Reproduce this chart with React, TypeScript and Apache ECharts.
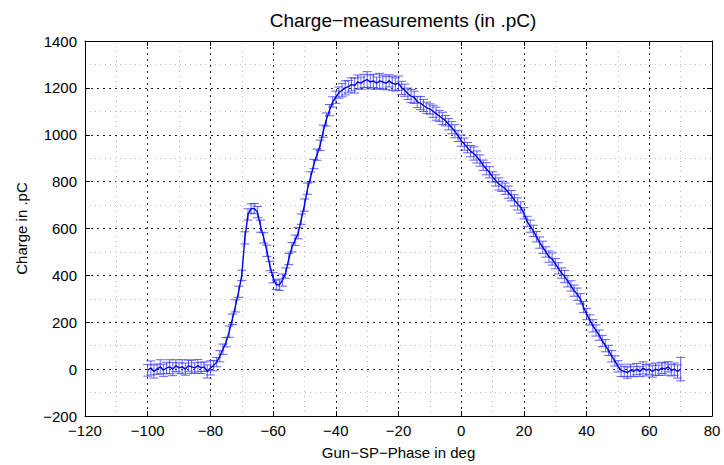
import React, { useEffect, useRef } from "react";
import * as echarts from "echarts";

const titleText = "Charge\u2212measurements (in .pC)";
const xAxisName = "Gun\u2212SP\u2212Phase in deg";
const yAxisName = "Charge in .pC";

const phase: number[] = [
  -100, -99, -98, -97, -96, -95, -94, -93, -92, -91,
  -90, -89, -88, -87, -86, -85, -84, -83, -82, -81,
  -80, -79, -78, -77, -76, -75, -74, -73, -72, -71,
  -70, -69, -68, -67, -66, -65, -64, -63, -62, -61,
  -60, -59, -58, -57, -56, -55, -54, -53, -52, -51,
  -50, -49, -48, -47, -46, -45, -44, -43, -42, -41,
  -40, -39, -38, -37, -36, -35, -34, -33, -32, -31,
  -30, -29, -28, -27, -26, -25, -24, -23, -22, -21,
  -20, -19, -18, -17, -16, -15, -14, -13, -12, -11,
  -10, -9, -8, -7, -6, -5, -4, -3, -2, -1,
  0, 1, 2, 3, 4, 5, 6, 7, 8, 9,
  10, 11, 12, 13, 14, 15, 16, 17, 18, 19,
  20, 21, 22, 23, 24, 25, 26, 27, 28, 29,
  30, 31, 32, 33, 34, 35, 36, 37, 38, 39,
  40, 41, 42, 43, 44, 45, 46, 47, 48, 49,
  50, 51, 52, 53, 54, 55, 56, 57, 58, 59,
  60, 61, 62, 63, 64, 65, 66, 67, 68, 69, 70,
];

const charge: number[] = [
  -5, 5, -10, 0, 10, -5, 5, 10, 0, 15,
  5, 10, 0, 15, 10, 5, 15, 5, 10, -10,
  5, 15, 30, 55, 85, 115, 160, 213, 270, 330,
  400, 560, 660, 685, 685, 670, 610, 560, 505, 440,
  390, 360, 360, 380, 410, 470, 520, 550, 580, 640,
  700, 770, 820, 875, 915, 955, 1015, 1065, 1105, 1140,
  1160, 1180, 1190, 1200, 1205, 1215, 1210, 1225, 1220, 1230,
  1235, 1225, 1230, 1220, 1230, 1225, 1220, 1230, 1220, 1215,
  1220, 1200, 1190, 1175, 1165, 1160, 1140, 1135, 1125, 1115,
  1110, 1100, 1090, 1080, 1070, 1060, 1045, 1030, 1015, 995,
  975, 960, 945, 930, 920, 905, 890, 870, 855, 840,
  820, 805, 790, 780, 770, 755, 740, 720, 705, 690,
  665, 630, 610, 590, 565, 540, 520, 500, 480, 470,
  450, 430, 410, 395, 375, 355, 335, 320, 300, 265,
  235, 210, 185, 165, 145, 120, 100, 80, 55, 35,
  12, -5, -10, -15, -5, -10, 0, -10, 5, -5,
  0, -10, 0, -5, 5, 0, 10, -5, 0, -10, 0,
];

const chargeErr: number[] = [
  25, 30, 28, 22, 30, 26, 24, 30, 28, 25,
  22, 30, 26, 24, 28, 22, 26, 24, 20, 28,
  30, 22, 20, 24, 22, 20, 24, 22, 26, 24,
  22, 26, 24, 20, 22, 24, 26, 22, 24, 20,
  22, 20, 24, 26, 22, 24, 20, 22, 24, 22,
  26, 24, 22, 20, 24, 22, 26, 28, 24, 22,
  26, 24, 28, 30, 26, 28, 32, 30, 26, 28,
  34, 30, 28, 26, 32, 30, 28, 26, 30, 28,
  30, 28, 26, 24, 28, 26, 24, 28, 26, 24,
  22, 26, 28, 24, 26, 22, 24, 26, 28, 24,
  24, 26, 22, 24, 28, 26, 24, 22, 26, 24,
  22, 24, 26, 22, 24, 26, 22, 24, 26, 24,
  24, 22, 26, 24, 22, 24, 26, 22, 24, 26,
  22, 24, 22, 26, 24, 22, 24, 26, 22, 24,
  24, 22, 26, 24, 22, 24, 26, 22, 24, 22,
  24, 26, 22, 24, 26, 22, 24, 22, 26, 24,
  22, 24, 26, 22, 24, 26, 22, 24, 26, 28, 50,
];

const FONT = "'Liberation Sans', Arial, Helvetica, sans-serif";
const minusFmt = (v: number) => String(v).replace("-", "\u2212");

export default function App() {
  const ref = useRef<HTMLDivElement>(null);
  useEffect(() => {
    if (!ref.current) return;
    const chart = echarts.init(ref.current, null, { renderer: "svg" });
    const lineData = phase.map((p, i) => [p, charge[i]]);
    const errData = phase.map((p, i) => [p, charge[i], chargeErr[i]]);
    const errColor = "rgba(60,60,255,0.8)";
    const frameAxis = {
      axisLine: { show: true, onZero: false, lineStyle: { color: "#000", width: 1 } },
      axisTick: { show: true, inside: true, length: 5, lineStyle: { color: "#000" } },
      axisLabel: { show: false },
      splitLine: { show: false },
    };
    chart.setOption({
      animation: false,
      backgroundColor: "#fff",
      title: {
        text: titleText,
        left: 398,
        textAlign: "center",
        top: 6,
        textStyle: { fontFamily: FONT, fontSize: 19, fontWeight: "normal", color: "#000" },
      },
      grid: { left: 85, right: 12, top: 41, bottom: 48 },
      xAxis: [
        {
          type: "value",
          min: -120,
          max: 80,
          interval: 20,
          position: "bottom",
          name: xAxisName,
          nameLocation: "middle",
          nameGap: 29,
          nameTextStyle: { fontFamily: FONT, fontSize: 15, color: "#000" },
          axisLine: { show: true, onZero: false, lineStyle: { color: "#000", width: 1 } },
          axisTick: { show: true, inside: true, length: 5, lineStyle: { color: "#000" } },
          axisLabel: { fontFamily: FONT, fontSize: 15, color: "#000", margin: 7, formatter: minusFmt },
          splitLine: { show: true, lineStyle: { color: "#222", type: [2, 4], width: 1 } },
          minorTick: { show: false, splitNumber: 2 },
          minorSplitLine: { show: true, lineStyle: { color: "#bbb", type: [1, 4], width: 1 } },
        },
        { type: "value", min: -120, max: 80, interval: 20, position: "top", ...frameAxis },
      ],
      yAxis: [
        {
          type: "value",
          min: -200,
          max: 1400,
          interval: 200,
          position: "left",
          name: yAxisName,
          nameLocation: "middle",
          nameGap: 56,
          nameTextStyle: { fontFamily: FONT, fontSize: 15, color: "#000" },
          axisLine: { show: true, onZero: false, lineStyle: { color: "#000", width: 1 } },
          axisTick: { show: true, inside: true, length: 5, lineStyle: { color: "#000" } },
          axisLabel: { fontFamily: FONT, fontSize: 15, color: "#000", margin: 8, formatter: minusFmt },
          splitLine: { show: true, lineStyle: { color: "#222", type: [2, 4], width: 1 } },
          minorTick: { show: false, splitNumber: 2 },
          minorSplitLine: { show: true, lineStyle: { color: "#bbb", type: [1, 4], width: 1 } },
        },
        { type: "value", min: -200, max: 1400, interval: 200, position: "right", ...frameAxis },
      ],
      series: [
        {
          type: "custom",
          xAxisIndex: 0,
          yAxisIndex: 0,
          data: errData,
          encode: { x: 0, y: 1 },
          z: 2,
          renderItem: (params: any, api: any) => {
            const x = api.value(0);
            const y = api.value(1);
            const e = api.value(2);
            const hi = api.coord([x, y + e]);
            const lo = api.coord([x, y - e]);
            const w = 4.5;
            const style = { stroke: errColor, lineWidth: 1, fill: "none" };
            return {
              type: "group",
              children: [
                { type: "line", shape: { x1: hi[0], y1: hi[1], x2: lo[0], y2: lo[1] }, style },
                { type: "line", shape: { x1: hi[0] - w, y1: hi[1], x2: hi[0] + w, y2: hi[1] }, style },
                { type: "line", shape: { x1: lo[0] - w, y1: lo[1], x2: lo[0] + w, y2: lo[1] }, style },
              ],
            };
          },
        },
        {
          type: "line",
          xAxisIndex: 0,
          yAxisIndex: 0,
          data: lineData,
          showSymbol: false,
          symbol: "none",
          z: 3,
          lineStyle: { color: "#0000e6", width: 1.4 },
        },
      ],
    });
    return () => chart.dispose();
  }, []);
  return (
    <div
      ref={ref}
      style={{ position: "fixed", left: 0, top: 0, width: 724, height: 465, background: "#fff" }}
    />
  );
}
